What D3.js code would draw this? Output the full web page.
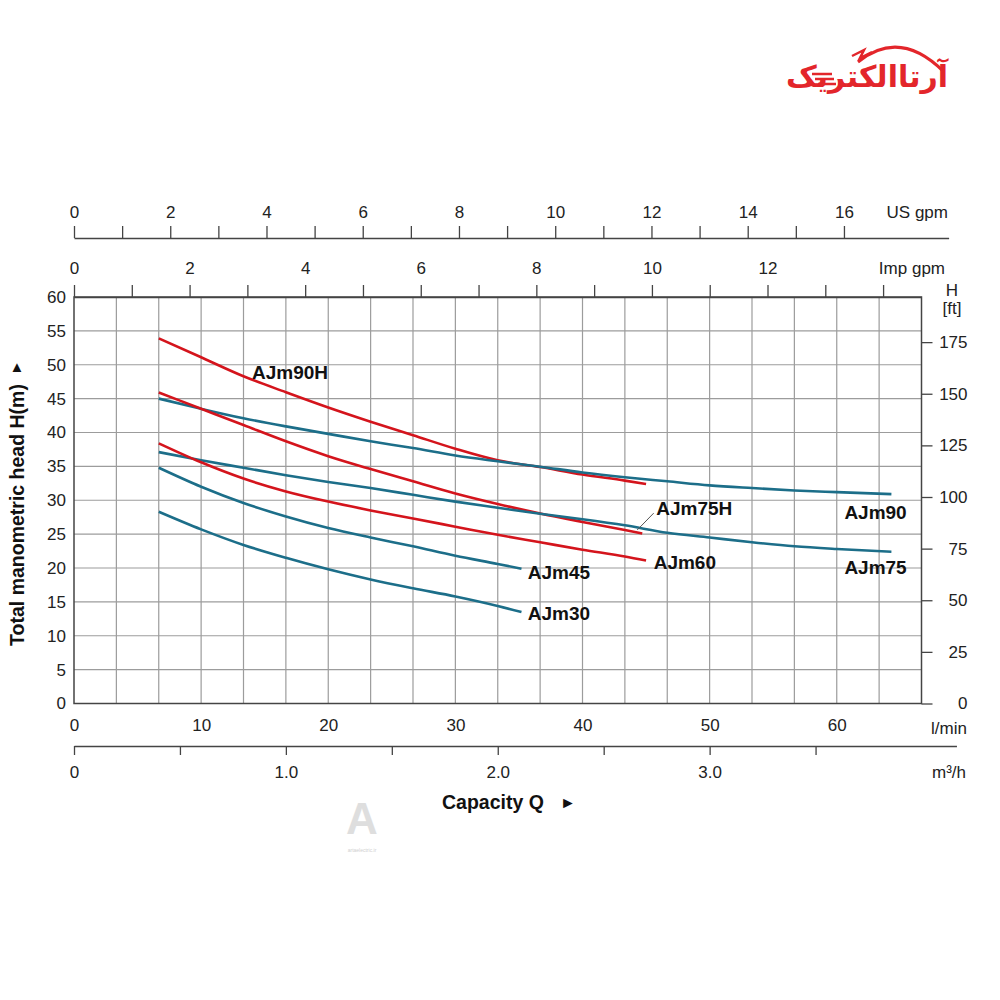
<!DOCTYPE html>
<html>
  <head>
    <meta charset="utf-8">
    <title>Pump performance curves</title>
    <style>
    body {
      margin: 0;
      background: #fff;
    }

    svg {
      display: block;
      font-family: "Liberation Sans", Arial, sans-serif;
    }

    .grid line {
      stroke: #9c9c9c;
      stroke-width: 1.2;
    }

    .curve {
      fill: none;
      stroke-width: 2.6;
    }

    .name {
      font-size: 19px;
      font-weight: bold;
      fill: #111;
    }

    .unit {
      font-size: 17px;
      fill: #222;
    }

    .title {
      font-size: 19.5px;
      font-weight: bold;
      fill: #111;
    }
    </style>
  </head>
  <body>
    <svg width="1000" height="1000"></svg>
    <script src="https://d3js.org/d3.v7.min.js"></script>
    <script>

      // ---- data (flow in l/min, head in m) ----
      var names = ["AJm90H", "AJm90", "AJm75H", "AJm75", "AJm60", "AJm45", "AJm30"];

      var flow90H = [6.67, 10, 13.33, 16.67, 20, 23.33, 26.67, 30, 33.33, 36.67, 40, 43.33, 45];
      var head90H = [53.9, 51.1, 48.3, 45.95, 43.7, 41.6, 39.6, 37.6, 35.9, 34.9, 33.8, 32.9, 32.4];

      var flow90 = [6.67, 10, 13.33, 16.67, 20, 23.33, 26.67, 30, 33.33, 36.67, 40, 43.33, 46.67, 50, 53.33, 56.67, 60, 64.3];
      var head90 = [45.0, 43.5, 42.1, 40.9, 39.8, 38.7, 37.7, 36.6, 35.75, 34.95, 34.1, 33.4, 32.8, 32.2, 31.8, 31.45, 31.2, 30.9];

      var flow75H = [6.67, 10, 13.33, 16.67, 20, 23.33, 26.67, 30, 33.33, 36.67, 40, 43.33, 44.7];
      var head75H = [45.9, 43.5, 41.1, 38.7, 36.5, 34.6, 32.8, 31.0, 29.45, 28.05, 26.8, 25.6, 25.1];

      var flow75 = [6.67, 10, 13.33, 16.67, 20, 23.33, 26.67, 30, 33.33, 36.67, 40, 43.33, 46.67, 50, 53.33, 56.67, 60, 64.3];
      var head75 = [37.1, 35.9, 34.8, 33.7, 32.7, 31.8, 30.8, 29.8, 28.9, 28.0, 27.2, 26.3, 25.2, 24.5, 23.8, 23.2, 22.8, 22.4];

      var flow60 = [6.67, 10, 13.33, 16.67, 20, 23.33, 26.67, 30, 33.33, 36.67, 40, 43.33, 45];
      var head60 = [38.4, 35.6, 33.2, 31.3, 29.8, 28.5, 27.3, 26.1, 24.9, 23.8, 22.7, 21.7, 21.1];

      var flow45 = [6.67, 10, 13.33, 16.67, 20, 23.33, 26.67, 30, 33.33, 35.2];
      var head45 = [34.8, 32.0, 29.6, 27.6, 25.9, 24.5, 23.2, 21.8, 20.6, 19.9];

      var flow30 = [6.67, 10, 13.33, 16.67, 20, 23.33, 26.67, 30, 33.33, 35.2];
      var head30 = [28.3, 25.7, 23.4, 21.5, 19.8, 18.3, 17.0, 15.8, 14.4, 13.5];

      var headTicks = [0, 5, 10, 15, 20, 25, 30, 35, 40, 45, 50, 55, 60];
      var feetTicks = [0, 25, 50, 75, 100, 125, 150, 175];
      var lpmTicks = [0, 10, 20, 30, 40, 50, 60];
      var m3Ticks = [0, 0.5, 1, 1.5, 2, 2.5, 3, 3.5];
      var usTicks = d3.range(0, 17);
      var impTicks = d3.range(0, 15);
      var usLabelMax = 16, impLabelMax = 12;

      var LPM_PER_US = 3.7854, LPM_PER_IMP = 4.5461, M_PER_FT = 0.3048;

      var svg = d3.select("svg");

      var x = d3.scaleLinear().domain([0, 200 / 3]).range([74, 921.5]),
          y = d3.scaleLinear().domain([0, 60]).range([703.5, 297]);

      var xM3 = d3.scaleLinear().domain([0, 4.165]).range([x(0), x(4.165 * 1000 / 60)]),
          xUs = d3.scaleLinear().domain([0, 68.8 / LPM_PER_US]).range([x(0), x(68.8)]),
          xImp = d3.scaleLinear().domain([0, (200 / 3) / LPM_PER_IMP]).range(x.range()),
          yFt = d3.scaleLinear().domain([0, 60 / M_PER_FT]).range(y.range());

      var colors = {AJm90H: "#d4141c", AJm75H: "#d4141c", AJm60: "#d4141c",
                    AJm90: "#1c6e89", AJm75: "#1c6e89", AJm45: "#1c6e89", AJm30: "#1c6e89"};

      var series = [
        {name: "AJm90H", q: flow90H, h: head90H},
        {name: "AJm90", q: flow90, h: head90},
        {name: "AJm75H", q: flow75H, h: head75H},
        {name: "AJm75", q: flow75, h: head75},
        {name: "AJm60", q: flow60, h: head60},
        {name: "AJm45", q: flow45, h: head45},
        {name: "AJm30", q: flow30, h: head30}
      ];

      // label anchor (l/min, m) for each curve name
      var labelAt = {
        AJm90H: [14.0, 48.9], AJm90: [60.6, 28.25], AJm75H: [45.8, 28.8],
        AJm75: [60.6, 20.1], AJm60: [45.6, 20.9], AJm45: [35.7, 19.4], AJm30: [35.7, 13.35]
      };

      svg.append("rect").attr("width", 1000).attr("height", 1000).attr("fill", "#fff");

      // ---- grid ----
      var grid = svg.append("g").attr("class", "grid");
      grid.selectAll(".v")
        .data(d3.range(1, 20).map(function(i) { return i * 0.2 * 1000 / 60; }))
        .enter().append("line")
          .attr("x1", function(d) { return x(d); })
          .attr("x2", function(d) { return x(d); })
          .attr("y1", y(0))
          .attr("y2", y(60));
      grid.selectAll(".h")
        .data(headTicks.slice(1, -1))
        .enter().append("line")
          .attr("x1", x(0))
          .attr("x2", x(200 / 3))
          .attr("y1", function(d) { return y(d); })
          .attr("y2", function(d) { return y(d); });

      svg.append("rect")
          .attr("x", x(0))
          .attr("y", y(60))
          .attr("width", x(200 / 3) - x(0))
          .attr("height", y(0) - y(60))
          .attr("fill", "none")
          .attr("stroke", "#444")
          .attr("stroke-width", 1.5);

      function styleAxis(g) {
        g.selectAll("path.domain").attr("stroke", "#444").attr("stroke-width", 1.5);
        g.selectAll(".tick line").attr("stroke", "#444").attr("stroke-width", 1.3);
        g.selectAll("text")
          .attr("font-size", 17)
          .attr("fill", "#222")
          .attr("font-family", "'Liberation Sans', Arial, sans-serif");
      }

      // ---- top axes ----
      svg.append("g")
          .attr("transform", "translate(0,238)")
          .call(d3.axisTop(xUs).tickValues(usTicks).tickSize(12).tickSizeOuter(0).tickPadding(8)
            .tickFormat(function(d) { return (d % 2 || d > usLabelMax) ? "" : d; }))
          .call(styleAxis);

      svg.append("g")
          .attr("transform", "translate(0," + y(60) + ")")
          .call(d3.axisTop(xImp).tickValues(impTicks).tickSize(12).tickSizeOuter(0).tickPadding(11)
            .tickFormat(function(d) { return (d % 2 || d > impLabelMax) ? "" : d; }))
          .call(styleAxis);

      // ---- bottom axes ----
      svg.append("g")
          .attr("transform", "translate(0," + y(0) + ")")
          .call(d3.axisBottom(x).tickValues(lpmTicks).tickSize(0).tickPadding(15))
          .call(styleAxis)
          .select("path.domain").remove();

      svg.append("g")
          .attr("transform", "translate(0,746)")
          .call(d3.axisBottom(xM3).tickValues(m3Ticks).tickSize(9).tickSizeOuter(0).tickPadding(11)
            .tickFormat(function(d) { return d === 0 ? "0" : (d % 1 ? "" : d.toFixed(1)); }))
          .call(styleAxis);

      // ---- left / right axes ----
      svg.append("g")
          .attr("transform", "translate(" + x(0) + ",0)")
          .call(d3.axisLeft(y).tickValues(headTicks).tickSize(0).tickPadding(8))
          .call(styleAxis)
          .select("path.domain").remove();

      var right = svg.append("g")
          .attr("transform", "translate(" + x(200 / 3) + ",0)")
          .call(d3.axisRight(yFt).tickValues(feetTicks).tickSize(11))
          .call(styleAxis);
      right.select("path.domain").remove();
      right.selectAll("text").attr("text-anchor", "end").attr("x", 46);

      // ---- unit labels and titles ----
      function unit(txt, px, py, anchor) {
        return svg.append("text").attr("class", "unit")
          .attr("x", px).attr("y", py).attr("dy", "0.35em")
          .attr("text-anchor", anchor).text(txt);
      }
      unit("US gpm", 948, 212, "end");
      unit("Imp gpm", 945, 268, "end");
      unit("l/min", 967, 728, "end");
      unit("m³/h", 966, 772, "end");
      unit("H", 952, 290, "middle");
      unit("[ft]", 952, 308, "middle");

      svg.append("text").attr("class", "title")
          .attr("transform", "translate(17,515) rotate(-90)")
          .attr("dy", "0.35em")
          .attr("text-anchor", "middle")
          .text("Total manometric head H(m)");
      svg.append("text")
          .attr("x", 17).attr("y", 367).attr("dy", "0.35em")
          .attr("text-anchor", "middle")
          .attr("font-size", 15).attr("fill", "#111")
          .text("▲");

      svg.append("text").attr("class", "title")
          .attr("x", 442).attr("y", 802).attr("dy", "0.35em")
          .text("Capacity Q");
      svg.append("text")
          .attr("x", 568).attr("y", 802).attr("dy", "0.35em")
          .attr("text-anchor", "middle")
          .attr("font-size", 16).attr("fill", "#111")
          .text("►");

      // ---- curves ----
      var line = d3.line()
          .x(function(d) { return x(d[0]); })
          .y(function(d) { return y(d[1]); })
          .curve(d3.curveMonotoneX);

      svg.selectAll(".curve")
        .data(series)
        .enter().append("path")
          .attr("class", "curve")
          .attr("stroke", function(d) { return colors[d.name]; })
          .attr("d", function(d) { return line(d.q.map(function(q, i) { return [q, d.h[i]]; })); });

      // leader line for AJm75H
      svg.append("line")
          .attr("x1", x(44.3)).attr("y1", y(25.6))
          .attr("x2", x(45.6)).attr("y2", y(28.1))
          .attr("stroke", "#555").attr("stroke-width", 1);

      svg.selectAll(".name")
        .data(names)
        .enter().append("text")
          .attr("class", "name")
          .attr("x", function(d) { return x(labelAt[d][0]); })
          .attr("y", function(d) { return y(labelAt[d][1]); })
          .attr("dy", "0.35em")
          .text(function(d) { return d; });

      // ---- logo ----
      var logo = svg.append("g").attr("fill", "#e3262b").attr("stroke", "#e3262b");
      logo.append("text")
          .attr("x", 948).attr("y", 87)
          .attr("text-anchor", "end")
          .attr("stroke", "none")
          .attr("font-family", "DejaVu Sans")
          .attr("font-weight", "bold")
          .attr("font-size", 30)
          .text("آرتاالکتریک");
      logo.append("path")
          .attr("d", "M858,62 Q900,28 944,72")
          .attr("fill", "none").attr("stroke-width", 3);
      logo.append("path")
          .attr("d", "M852,56 L864,50 L860,58 L872,52")
          .attr("fill", "none").attr("stroke-width", 2.5);
      logo.selectAll(".speed")
        .data([0, 1, 2])
        .enter().append("line")
          .attr("x1", function(d) { return 812 + d * 3; })
          .attr("x2", function(d) { return 832 + d * 2; })
          .attr("y1", function(d) { return 74 + d * 5; })
          .attr("y2", function(d) { return 74 + d * 5; })
          .attr("stroke-width", 2.5);

      // ---- watermark ----
      svg.append("text")
          .attr("x", 362).attr("y", 834)
          .attr("text-anchor", "middle")
          .attr("font-size", 44)
          .attr("font-weight", "bold")
          .attr("fill", "#dedede")
          .text("A");
      svg.append("text")
          .attr("x", 362).attr("y", 852)
          .attr("text-anchor", "middle")
          .attr("font-size", 5)
          .attr("fill", "#d0d0d0")
          .text("artaelectric.ir");

    </script>
  </body>
</html>
